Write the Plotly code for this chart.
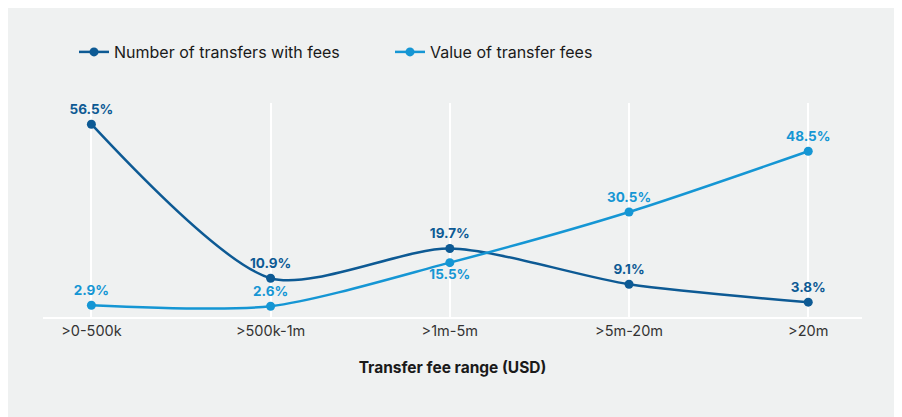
import plotly.graph_objects as go

categories = [">0-500k", ">500k-1m", ">1m-5m", ">5m-20m", ">20m"]
number_of_transfers = [56.5, 10.9, 19.7, 9.1, 3.8]
value_of_fees = [2.9, 2.6, 15.5, 30.5, 48.5]
num_text_pos = ["top center", "top center", "top center", "top center", "top center"]
val_text_pos = ["top center", "top center", "bottom center", "top center", "top center"]

DARK = "#0d5a94"
LIGHT = "#1596d4"
BG = "#eff1f1"
FONT = "Inter"

# page body adds an 8px offset, so the figure is 8px smaller than the window
W, H = 894, 409
ML, MR, MT, MB = 35, 40, 95, 100
PW, PH = W - ML - MR, H - MT - MB

fig = go.Figure()
fig.add_trace(go.Scatter(
    x=categories, y=number_of_transfers, name="Number of transfers with fees",
    mode="lines+markers+text", line=dict(color=DARK, width=2.5, shape="spline", smoothing=0.75),
    marker=dict(size=9, color=DARK),
    text=[f"{v}%" for v in number_of_transfers], textposition=num_text_pos,
    textfont=dict(family=FONT, size=13.5, color=DARK, weight="bold"),
    cliponaxis=False,
))
fig.add_trace(go.Scatter(
    x=categories, y=value_of_fees, name="Value of transfer fees",
    mode="lines+markers+text", line=dict(color=LIGHT, width=2.5, shape="spline", smoothing=0.75),
    marker=dict(size=9, color=LIGHT),
    text=[f"{v}%" for v in value_of_fees], textposition=val_text_pos,
    textfont=dict(family=FONT, size=13.5, color=LIGHT, weight="bold"),
    cliponaxis=False,
))

fig.update_layout(
    width=W, height=H,
    margin=dict(l=ML, r=MR, t=MT, b=MB, pad=0),
    paper_bgcolor=BG, plot_bgcolor=BG,
    font=dict(family=FONT, color="#222222"),
    showlegend=True,
    legend=dict(orientation="h", x=(66 - ML) / PW, xanchor="left",
                y=(H - MB - 44) / PH, yanchor="middle",
                font=dict(family=FONT, size=16, color="#1a1a1a"),
                bgcolor="rgba(0,0,0,0)", entrywidth=271, entrywidthmode="pixels",
                itemwidth=30),
    xaxis=dict(range=[-0.27, 4.3], showgrid=True, gridcolor="white", gridwidth=2,
               showline=True, linecolor="white", linewidth=2, ticks="",
               tickfont=dict(family=FONT, size=14.5, color="#333333"),
               title=dict(text="Transfer fee range (USD)", standoff=24,
                          font=dict(family=FONT, size=15.5, color="#1a1a1a", weight="bold")),
               zeroline=False),
    yaxis=dict(range=[-0.59, 62.78], showgrid=False, showticklabels=False,
               zeroline=False, showline=False, ticks=""),
)

fig.write_html("out.html")
